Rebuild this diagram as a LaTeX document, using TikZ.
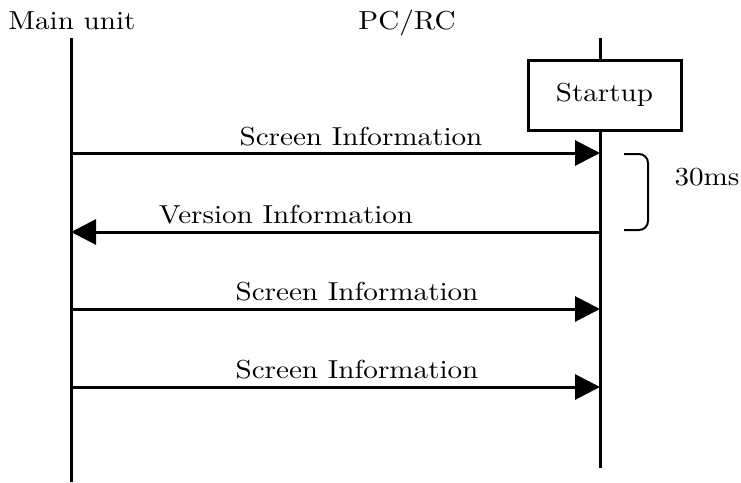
\documentclass[tikz,border=0pt]{standalone}
\usepackage{fontspec}
\setmainfont{lmroman10-regular}[Extension=.otf, FakeStretch=1.12]
\usetikzlibrary{arrows.meta}
\tikzset{
  lbl/.style={font=\fontsize{26}{30}\selectfont, inner sep=0pt, anchor=base},
  life/.style={line width=3pt},
  msg/.style={line width=3pt, -{Triangle[length=25pt,width=25pt]}},
  boxnode/.style={draw, line width=3pt, minimum width=153pt, minimum height=70pt, inner sep=0pt, fill=white, font=\fontsize{26}{30}\selectfont},
}
\begin{document}
\begin{tikzpicture}[x=1pt,y=-1pt]
\useasboundingbox (0,0) rectangle (741,482);
% lifelines
\coordinate (Ltop) at (71,38);
\coordinate (Lbot) at (71,482);
\coordinate (Rtop) at (600,38);
\coordinate (Rbot) at (600,468);
\draw[life] (Ltop) -- (Lbot);
\draw[life] (Rtop) -- (Rbot);
% headers
\node[lbl] (main) at (72,29) {Main unit};
\node[lbl] (pcrc) at (407,29) {PC/RC};
% startup box
\node[boxnode] (startup) at (604.5,95) {Startup};
% message points
\coordinate (L1) at (71,153);  \coordinate (R1) at (600,153);
\coordinate (L2) at (71,232);  \coordinate (R2) at (600,232);
\coordinate (L3) at (71,309);  \coordinate (R3) at (600,309);
\coordinate (L4) at (71,387);  \coordinate (R4) at (600,387);
\draw[msg] (L1) -- (R1);
\draw[msg] (R2) -- (L2);
\draw[msg] (L3) -- (R3);
\draw[msg] (L4) -- (R4);
\node[lbl] (m1) at (361,145) {Screen Information};
\node[lbl] (m2) at (286,223) {Version Information};
\node[lbl] (m3) at (357,300) {Screen Information};
\node[lbl] (m4) at (357,378) {Screen Information};
% bracket
\coordinate (bt) at (624,154);
\coordinate (bb) at (624,230);
\draw[line width=2pt, rounded corners=9pt] (bt) -- (648,154) -- (648,230) -- (bb);
\node[lbl] (ms) at (707,185) {30ms};
\end{tikzpicture}
\end{document}
